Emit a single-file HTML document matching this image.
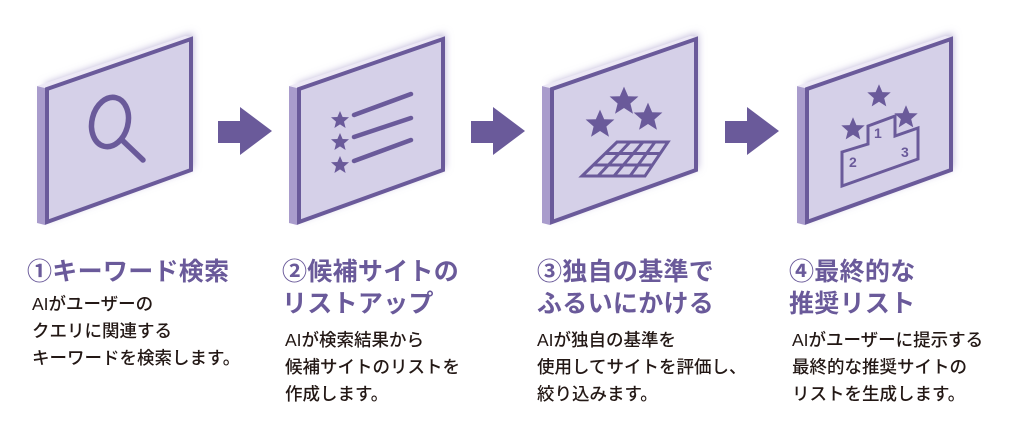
<!DOCTYPE html>
<html><head><meta charset="utf-8"><style>
body{margin:0;width:1024px;height:423px;background:#fff;position:relative;overflow:hidden;font-family:"Liberation Sans","Noto Sans CJK JP",sans-serif}
svg{position:absolute;left:0;top:0}
.h{position:absolute;color:#6a5a9a;font-weight:bold;font-size:25px;line-height:32px;white-space:nowrap;letter-spacing:0.3px}
.b{position:absolute;color:#231815;font-size:17.5px;line-height:27px;white-space:nowrap;font-weight:500}
</style></head><body>
<svg width="1024" height="423" viewBox="0 0 1024 423">
<defs>
<filter id="sh" x="-20%" y="-20%" width="140%" height="140%"><feGaussianBlur stdDeviation="4"/></filter>
<g id="panel">
<polygon points="2,88 150,37 150,172 2,225" fill="#b8b0d4" filter="url(#sh)" transform="translate(-2,-4)"/>
<polygon points="-8,86 0,88 0,225 -8,223" fill="#a99ccc"/>
<polygon points="-8,86 140,36 148,37 0,88" fill="#ece8f5"/>
<polygon points="2,89 146,39 146,170 2,222" fill="#d5d0e8" stroke="#6a5a9a" stroke-width="4"/>
</g>
<polygon id="star" points="0,-9 2.6,-3 9,-2.8 4,1.6 5.6,8 0,4.4 -5.6,8 -4,1.6 -9,-2.8 -2.6,-3"/>
<polygon id="arr" points="0,121 22,121 22,107 54,131 22,155 22,143 0,143"/>
</defs>
<use href="#panel" x="45"/>
<use href="#panel" x="297"/>
<use href="#panel" x="550"/>
<use href="#panel" x="805"/>
<g fill="#6a5a9a">
<use href="#arr" x="218"/><use href="#arr" x="471"/><use href="#arr" x="725"/>
</g>
<g stroke="#6a5a9a" stroke-width="5.5" fill="none" stroke-linecap="round">
<ellipse cx="110" cy="122" rx="18" ry="25" transform="rotate(14 110 122)"/>
<line x1="122" y1="140" x2="143" y2="160"/>
</g>
<g stroke="#6a5a9a" stroke-width="4.5" stroke-linecap="round">
<line x1="354" y1="115" x2="411" y2="94"/>
<line x1="354" y1="137" x2="411" y2="118"/>
<line x1="354" y1="161" x2="411" y2="140"/>
</g>
<g fill="#6a5a9a">
<use href="#star" x="340" y="120"/>
<use href="#star" x="340" y="142"/>
<use href="#star" x="340" y="165"/>
<use href="#star" transform="translate(600 124) scale(1.6)"/>
<use href="#star" transform="translate(624 101) scale(1.6)"/>
<use href="#star" transform="translate(648 117) scale(1.6)"/>
<use href="#star" transform="translate(879 96) scale(1.3)"/>
<use href="#star" transform="translate(853 129) scale(1.3)"/>
<use href="#star" transform="translate(906 117) scale(1.3)"/>
</g>
<g stroke="#6a5a9a" stroke-width="3" fill="none">
<polygon points="617,142 668,142 645,176 582,176"/>
<line x1="605" y1="153.5" x2="661" y2="153.5"/>
<line x1="593" y1="165" x2="653" y2="165"/>
<line x1="630" y1="142" x2="598" y2="176"/>
<line x1="643" y1="142" x2="614" y2="176"/>
<line x1="655" y1="142" x2="630" y2="176"/>
</g>
<g stroke="#6a5a9a" stroke-width="3" fill="none">
<polygon points="842,152 868,144 868,126 895,116 895,136 918,128 918,159 842,186"/>
</g>
<g fill="#6a5a9a" font-family="Liberation Sans, sans-serif" font-size="14" font-weight="bold">
<text x="874" y="138">1</text><text x="849" y="167">2</text><text x="901" y="157">3</text>
</g>
</svg>
<div class="h" style="left:27px;top:256px">①キーワード検索</div>
<div class="b" style="left:32px;top:291px">AIがユーザーの<br>クエリに関連する<br>キーワードを検索します。</div>
<div class="h" style="left:282px;top:256px">②候補サイトの<br>リストアップ</div>
<div class="b" style="left:285px;top:327px">AIが検索結果から<br>候補サイトのリストを<br>作成します。</div>
<div class="h" style="left:537px;top:256px">③独自の基準で<br>ふるいにかける</div>
<div class="b" style="left:537px;top:327px">AIが独自の基準を<br>使用してサイトを評価し、<br>絞り込みます。</div>
<div class="h" style="left:789px;top:256px">④最終的な<br>推奨リスト</div>
<div class="b" style="left:792px;top:327px">AIがユーザーに提示する<br>最終的な推奨サイトの<br>リストを生成します。</div>
</body></html>
